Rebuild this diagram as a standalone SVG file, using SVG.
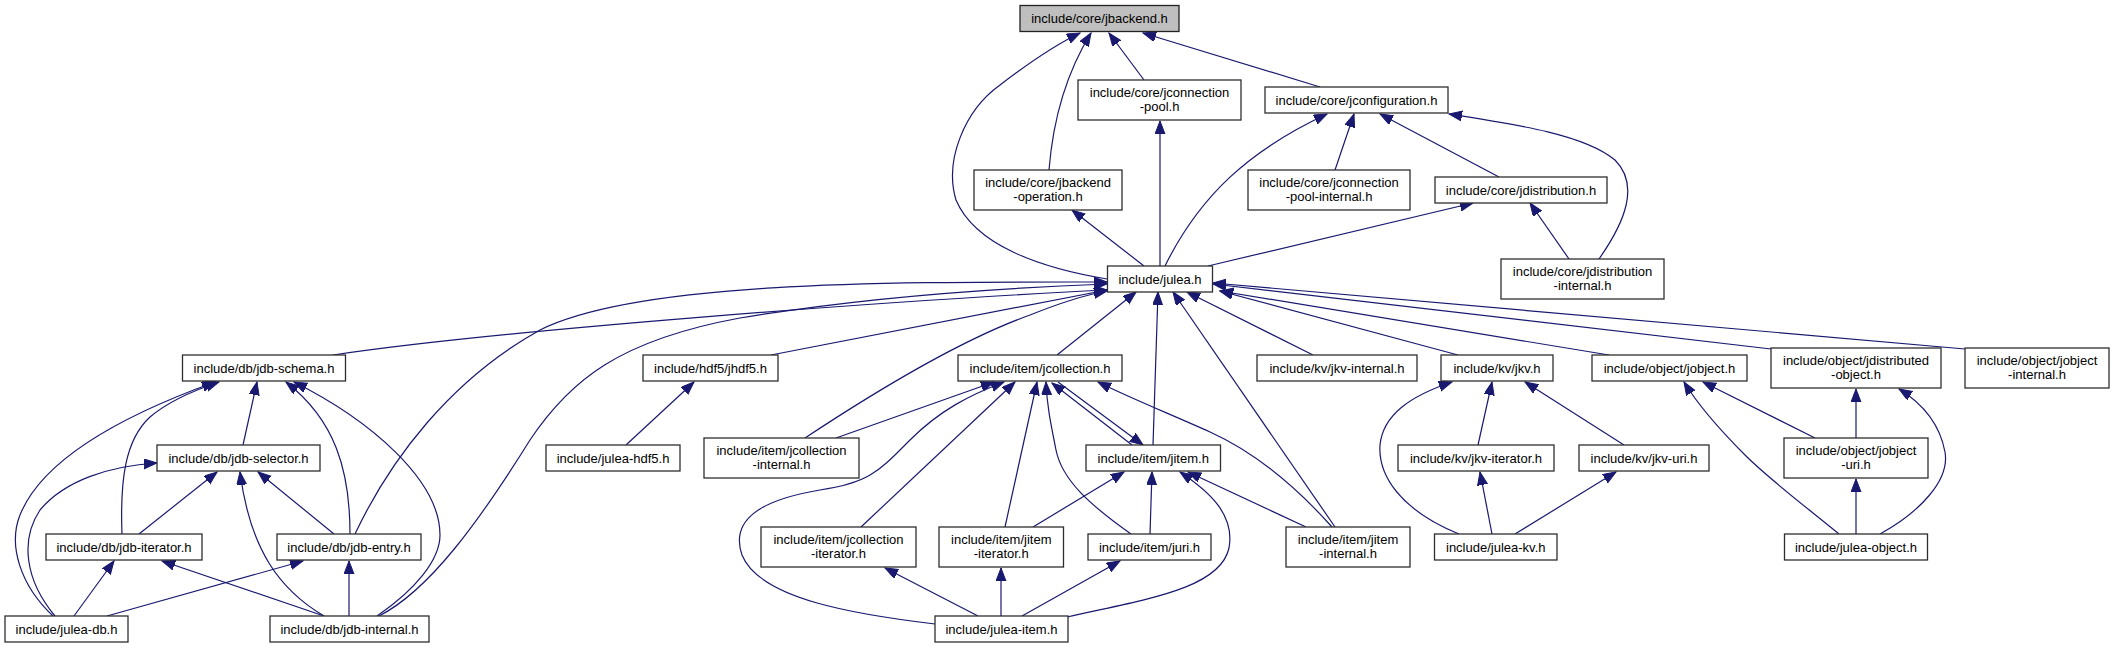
<svg xmlns="http://www.w3.org/2000/svg" width="2115" height="648" viewBox="0 0 2115 648">
<style>
.n rect{fill:#fff;stroke:#2e2e2e;stroke-width:1.3}
.root rect{fill:#bfbfbf;stroke:#222}
.n text{font-family:"Liberation Sans",Arial,Helvetica,sans-serif;font-size:13px;text-anchor:middle;fill:#000}
.e path{fill:none;stroke:#191970;stroke-width:1.2;marker-end:url(#arr)}
</style>
<defs>
<marker id="arr" markerWidth="14" markerHeight="11" refX="13" refY="5" orient="auto" markerUnits="userSpaceOnUse"><path d="M0,0 L13,5 L0,10 Z" fill="#191970" stroke="#191970" stroke-width="1"/></marker>
</defs>
<rect width="2115" height="648" fill="#fff"/>
<g class="e" id="edges">
<path d="M1107,279 C1040,268 975,245 956,200 C944,160 965,110 1000,85 C1030,62 1055,45 1080,33"/>
<path d="M1049,170 C1053,120 1065,75 1091,33"/>
<path d="M1144,80 L1109,33"/>
<path d="M1320,87 L1143,33"/>
<path d="M1160,266 L1160,121"/>
<path d="M1165,266 C1200,195 1250,150 1327,114"/>
<path d="M1335,170 L1354,114"/>
<path d="M1499,177 L1380,114"/>
<path d="M1599,259 C1625,222 1640,185 1615,160 C1585,135 1520,125 1449,114"/>
<path d="M1208,266 L1473,203"/>
<path d="M1569,259 L1530,203"/>
<path d="M1144,266 L1072,210"/>
<path d="M333,355 C500,330 900,300 1107,290"/>
<path d="M355,534 C390,460 450,380 540,330 C640,280 900,282 1107,282"/>
<path d="M379,616 C430,590 480,520 530,440 C570,380 620,340 740,318 C860,298 1000,288 1107,284"/>
<path d="M771,355 L1107,290"/>
<path d="M805,438 C870,395 960,340 1030,315 C1060,303 1085,295 1107,291"/>
<path d="M1057,355 L1136,292"/>
<path d="M1153,445 L1158,292"/>
<path d="M1335,527 L1173,292"/>
<path d="M1313,355 L1187,292"/>
<path d="M1458,355 L1220,291"/>
<path d="M1609,355 L1220,291"/>
<path d="M1771,349 L1213,284"/>
<path d="M1965,349 L1213,283"/>
<path d="M53,616 C20,585 8,545 20,515 C40,465 110,420 215,382"/>
<path d="M122,534 C120,480 125,440 150,417 C170,400 195,390 219,382"/>
<path d="M243,445 L257,382"/>
<path d="M350,534 C350,470 335,420 286,382"/>
<path d="M377,616 C415,590 440,560 440,535 C440,480 370,420 294,382"/>
<path d="M55,616 C25,580 20,540 40,510 C65,480 110,466 157,463"/>
<path d="M139,534 L217,472"/>
<path d="M324,616 C280,590 250,550 240,472"/>
<path d="M334,534 L258,472"/>
<path d="M74,616 L114,561"/>
<path d="M324,616 L162,561"/>
<path d="M107,616 L303,561"/>
<path d="M349,616 L349,561"/>
<path d="M626,445 L694,382"/>
<path d="M836,438 L994,382"/>
<path d="M935,624 C860,615 760,600 742,555 C730,520 760,500 820,490 C870,483 880,470 910,440 C940,410 970,395 1004,382"/>
<path d="M861,527 L1015,382"/>
<path d="M1005,527 L1037,382"/>
<path d="M1131,534 C1090,505 1062,480 1056,450 C1050,420 1047,405 1046,382"/>
<path d="M1132,445 L1052,383"/>
<path d="M1058,382 L1143,445"/>
<path d="M1332,527 C1290,480 1250,450 1210,432 C1170,414 1130,398 1098,382"/>
<path d="M1033,527 L1124,472"/>
<path d="M1150,534 L1152,472"/>
<path d="M1067,617 C1140,600 1220,590 1229,548 C1235,515 1210,492 1180,472"/>
<path d="M1306,527 L1188,472"/>
<path d="M1022,616 L1120,561"/>
<path d="M1001,616 L1001,568"/>
<path d="M978,616 L885,568"/>
<path d="M1459,534 C1400,510 1378,475 1380,445 C1383,415 1410,396 1452,382"/>
<path d="M1478,445 L1492,382"/>
<path d="M1624,445 L1525,382"/>
<path d="M1492,534 L1480,472"/>
<path d="M1515,534 L1616,472"/>
<path d="M1839,534 C1810,510 1770,480 1745,455 C1720,430 1700,408 1684,382"/>
<path d="M1815,438 L1703,382"/>
<path d="M1856,438 L1856,389"/>
<path d="M1880,534 C1920,512 1950,480 1945,452 C1940,425 1925,405 1899,389"/>
<path d="M1856,534 L1856,479"/>
</g>
<g class="n root" id="n_jbackend"><rect x="1020" y="5.5" width="159" height="26"/><text x="1099.5" y="23">include/core/jbackend.h</text></g>
<g class="n" id="n_jconnpool"><rect x="1078" y="80" width="163" height="40"/><text x="1159.5" y="97.3">include/core/jconnection</text><text x="1159.5" y="111.3">-pool.h</text></g>
<g class="n" id="n_jconfig"><rect x="1265" y="87" width="183" height="26"/><text x="1356.5" y="104.5">include/core/jconfiguration.h</text></g>
<g class="n" id="n_jbackop"><rect x="974" y="170" width="148" height="40"/><text x="1048" y="187.3">include/core/jbackend</text><text x="1048" y="201.3">-operation.h</text></g>
<g class="n" id="n_jconnpoolint"><rect x="1248" y="170" width="162" height="40"/><text x="1329" y="187.3">include/core/jconnection</text><text x="1329" y="201.3">-pool-internal.h</text></g>
<g class="n" id="n_jdist"><rect x="1435" y="177" width="172" height="26"/><text x="1521" y="194.5">include/core/jdistribution.h</text></g>
<g class="n" id="n_julea"><rect x="1107.5" y="266" width="105" height="26"/><text x="1160" y="283.5">include/julea.h</text></g>
<g class="n" id="n_jdistint"><rect x="1501" y="259" width="163" height="40"/><text x="1582.5" y="276.3">include/core/jdistribution</text><text x="1582.5" y="290.3">-internal.h</text></g>
<g class="n" id="n_schema"><rect x="182.5" y="355" width="163" height="26"/><text x="264" y="372.5">include/db/jdb-schema.h</text></g>
<g class="n" id="n_hdf5"><rect x="643" y="355" width="135" height="26"/><text x="710.5" y="372.5">include/hdf5/jhdf5.h</text></g>
<g class="n" id="n_jcoll"><rect x="958" y="355" width="164" height="26"/><text x="1040" y="372.5">include/item/jcollection.h</text></g>
<g class="n" id="n_kvint"><rect x="1257" y="355" width="160" height="26"/><text x="1337" y="372.5">include/kv/jkv-internal.h</text></g>
<g class="n" id="n_jkv"><rect x="1441" y="355" width="112" height="26"/><text x="1497" y="372.5">include/kv/jkv.h</text></g>
<g class="n" id="n_jobject"><rect x="1592" y="355" width="155" height="26"/><text x="1669.5" y="372.5">include/object/jobject.h</text></g>
<g class="n" id="n_jdistobj"><rect x="1771" y="348" width="170" height="40"/><text x="1856" y="365.3">include/object/jdistributed</text><text x="1856" y="379.3">-object.h</text></g>
<g class="n" id="n_jobjint"><rect x="1965" y="348" width="144" height="40"/><text x="2037" y="365.3">include/object/jobject</text><text x="2037" y="379.3">-internal.h</text></g>
<g class="n" id="n_selector"><rect x="157" y="445" width="163" height="26"/><text x="238.5" y="462.5">include/db/jdb-selector.h</text></g>
<g class="n" id="n_juleahdf5"><rect x="546" y="445" width="134" height="26"/><text x="613" y="462.5">include/julea-hdf5.h</text></g>
<g class="n" id="n_jcollint"><rect x="704" y="438" width="155" height="40"/><text x="781.5" y="455.3">include/item/jcollection</text><text x="781.5" y="469.3">-internal.h</text></g>
<g class="n" id="n_jitem"><rect x="1086" y="445" width="134.5" height="26"/><text x="1153.25" y="462.5">include/item/jitem.h</text></g>
<g class="n" id="n_jkviter"><rect x="1398" y="445" width="156" height="26"/><text x="1476" y="462.5">include/kv/jkv-iterator.h</text></g>
<g class="n" id="n_jkvuri"><rect x="1579" y="445" width="130" height="26"/><text x="1644" y="462.5">include/kv/jkv-uri.h</text></g>
<g class="n" id="n_jobjuri"><rect x="1784" y="438" width="144" height="40"/><text x="1856" y="455.3">include/object/jobject</text><text x="1856" y="469.3">-uri.h</text></g>
<g class="n" id="n_jdbiter"><rect x="46" y="534" width="156" height="26"/><text x="124" y="551.5">include/db/jdb-iterator.h</text></g>
<g class="n" id="n_jdbentry"><rect x="277" y="534" width="144" height="26"/><text x="349" y="551.5">include/db/jdb-entry.h</text></g>
<g class="n" id="n_jcolliter"><rect x="761" y="527" width="155" height="40"/><text x="838.5" y="544.3">include/item/jcollection</text><text x="838.5" y="558.3">-iterator.h</text></g>
<g class="n" id="n_jitemiter"><rect x="939" y="527" width="124.5" height="40"/><text x="1001.25" y="544.3">include/item/jitem</text><text x="1001.25" y="558.3">-iterator.h</text></g>
<g class="n" id="n_juri"><rect x="1088" y="534" width="123" height="26"/><text x="1149.5" y="551.5">include/item/juri.h</text></g>
<g class="n" id="n_jitemint"><rect x="1286" y="527" width="124" height="40"/><text x="1348" y="544.3">include/item/jitem</text><text x="1348" y="558.3">-internal.h</text></g>
<g class="n" id="n_juleakv"><rect x="1434.5" y="534" width="122.5" height="26"/><text x="1495.75" y="551.5">include/julea-kv.h</text></g>
<g class="n" id="n_juleaobj"><rect x="1784.5" y="534" width="143" height="26"/><text x="1856" y="551.5">include/julea-object.h</text></g>
<g class="n" id="n_juleadb"><rect x="5" y="616" width="123" height="26"/><text x="66.5" y="633.5">include/julea-db.h</text></g>
<g class="n" id="n_jdbint"><rect x="270" y="616" width="159" height="26"/><text x="349.5" y="633.5">include/db/jdb-internal.h</text></g>
<g class="n" id="n_juleaitem"><rect x="935" y="616" width="133" height="26"/><text x="1001.5" y="633.5">include/julea-item.h</text></g>
</svg>
